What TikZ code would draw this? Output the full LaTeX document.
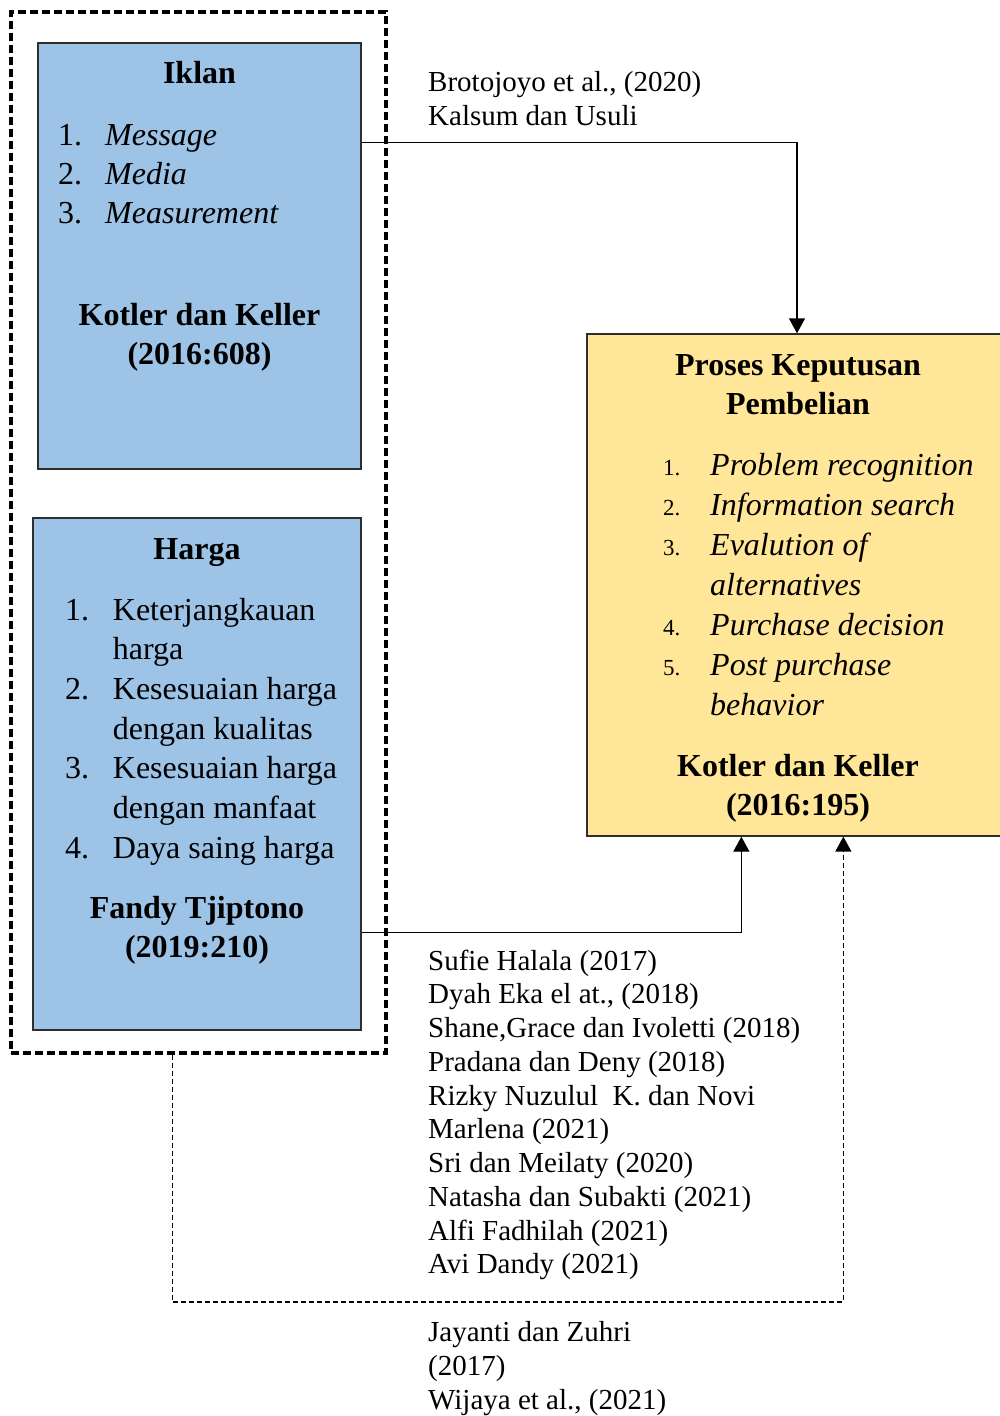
\documentclass[tikz,border=0pt]{standalone}
\usepackage{fontspec}
\setmainfont{Liberation Serif}
\usetikzlibrary{arrows.meta,calc}
\definecolor{boxblue}{HTML}{9DC3E6}
\definecolor{boxyellow}{HTML}{FFE699}
\definecolor{edgegray}{HTML}{2E2E2E}
\tikzset{
  boxstyle/.style={draw=edgegray, line width=1.3pt, rectangle, inner sep=0pt},
  groupbox/.style={draw=black, line width=3.6pt, dash pattern=on 8pt off 4pt, rectangle, inner sep=0pt},
  bigtxt/.style={inner sep=0pt, anchor=base west, font=\fontsize{32}{40}\selectfont},
  bigtitle/.style={inner sep=0pt, anchor=base, font=\fontsize{32}{40}\selectfont\bfseries},
  smallnum/.style={inner sep=0pt, anchor=base west, font=\fontsize{23}{30}\selectfont},
  reftxt/.style={inner sep=0pt, anchor=base west, font=\fontsize{29}{34}\selectfont},
  conn/.style={draw=black, line width=1.3pt, -{Triangle[length=15pt,width=16pt]}},
  dconn/.style={draw=black, line width=1.4pt, dash pattern=on 5pt off 3pt, -{Triangle[length=15pt,width=16pt]}}
}
\begin{document}
\begin{tikzpicture}[x=1pt,y=-1pt]
\clip (0,0) rectangle (1000,1416);
\fill[white] (0,0) rectangle (1000,1416);

% boxes
\node[groupbox, minimum width=375pt, minimum height=1041pt] (group) at (198.5,532.5) {};
\node[boxstyle, fill=boxblue, minimum width=323pt, minimum height=426pt] (iklan) at (199.5,256) {};
\node[boxstyle, fill=boxblue, minimum width=328pt, minimum height=512pt] (harga) at (197,774) {};
\node[boxstyle, fill=boxyellow, minimum width=420pt, minimum height=502pt] (yellow) at (797,585) {};

% Iklan text
\node[bigtitle] (iklanT) at (199.5,83) {Iklan};
\node[bigtxt] (in1) at (58,145) {1.};
\node[bigtxt] (it1) at (105,145) {\itshape Message};
\node[bigtxt] (in2) at (58,184) {2.};
\node[bigtxt] (it2) at (105,184) {\itshape Media};
\node[bigtxt] (in3) at (58,223) {3.};
\node[bigtxt] (it3) at (105,223) {\itshape Measurement};
\node[bigtitle] (iklanR1) at (199.5,325) {Kotler dan Keller};
\node[bigtitle] (iklanR2) at (199.5,364) {(2016:608)};

% Harga text
\node[bigtitle] (hargaT) at (197,559) {Harga};
\node[bigtxt] (hn1) at (65,620) {1.};
\node[bigtxt] (ht1) at (112.7,620) {Keterjangkauan};
\node[bigtxt] (ht1b) at (112.7,659.7) {harga};
\node[bigtxt] (hn2) at (65,699.4) {2.};
\node[bigtxt] (ht2) at (112.7,699.4) {Kesesuaian harga};
\node[bigtxt] (ht2b) at (112.7,739.1) {dengan kualitas};
\node[bigtxt] (hn3) at (65,778.8) {3.};
\node[bigtxt] (ht3) at (112.7,778.8) {Kesesuaian harga};
\node[bigtxt] (ht3b) at (112.7,818.5) {dengan manfaat};
\node[bigtxt] (hn4) at (65,858.2) {4.};
\node[bigtxt] (ht4) at (112.7,858.2) {Daya saing harga};
\node[bigtitle] (hargaR1) at (197,918) {Fandy Tjiptono};
\node[bigtitle] (hargaR2) at (197,957) {(2019:210)};

% Yellow text
\node[bigtitle] (yT1) at (798,375) {Proses Keputusan};
\node[bigtitle] (yT2) at (798,414) {Pembelian};
\node[smallnum] (yn1) at (663,475) {1.};
\node[bigtxt] (yt1) at (710,475) {\itshape Problem recognition};
\node[smallnum] (yn2) at (663,515) {2.};
\node[bigtxt] (yt2) at (710,515) {\itshape Information search};
\node[smallnum] (yn3) at (663,555) {3.};
\node[bigtxt] (yt3) at (710,555) {\itshape Evalution of};
\node[bigtxt] (yt3b) at (710,595) {\itshape alternatives};
\node[smallnum] (yn4) at (663,635) {4.};
\node[bigtxt] (yt4) at (710,635) {\itshape Purchase decision};
\node[smallnum] (yn5) at (663,675) {5.};
\node[bigtxt] (yt5) at (710,675) {\itshape Post purchase};
\node[bigtxt] (yt5b) at (710,715) {\itshape behavior};
\node[bigtitle] (yR1) at (798,776) {Kotler dan Keller};
\node[bigtitle] (yR2) at (798,815) {(2016:195)};

% reference texts
\node[reftxt] (r1a) at (428,91) {Brotojoyo et al., (2020)};
\node[reftxt] (r1b) at (428,125) {Kalsum dan Usuli};

\foreach \t [count=\i from 0] in {Sufie Halala (2017),Dyah Eka el at.{,} (2018),Shane{,}Grace dan Ivoletti (2018),Pradana dan Deny (2018),Rizky Nuzulul\ \ K. dan Novi,Marlena (2021),Sri dan Meilaty (2020),Natasha dan Subakti (2021),Alfi Fadhilah (2021),Avi Dandy (2021)}
  \node[reftxt] (r2-\i) at (428,{970+\i*33.75}) {\t};

\node[reftxt] (r3a) at (428,1341) {Jayanti dan Zuhri};
\node[reftxt] (r3b) at (428,1375) {(2017)};
\node[reftxt] (r3c) at (428,1409) {Wijaya et al., (2021)};

% connectors
\draw[conn] ($(iklan.north east)+(0,100)$) -| (yellow.north);
\draw[conn] ($(harga.north east)+(0,415)$) -| ($(yellow.south west)+(155,0)$);
\coordinate (dl) at ($(group.south west)+(163,247)$);
\draw[dconn] ($(group.south west)+(163,0)$) -- (dl) -| ($(yellow.south west)+(257,0)$);
\end{tikzpicture}
\end{document}
